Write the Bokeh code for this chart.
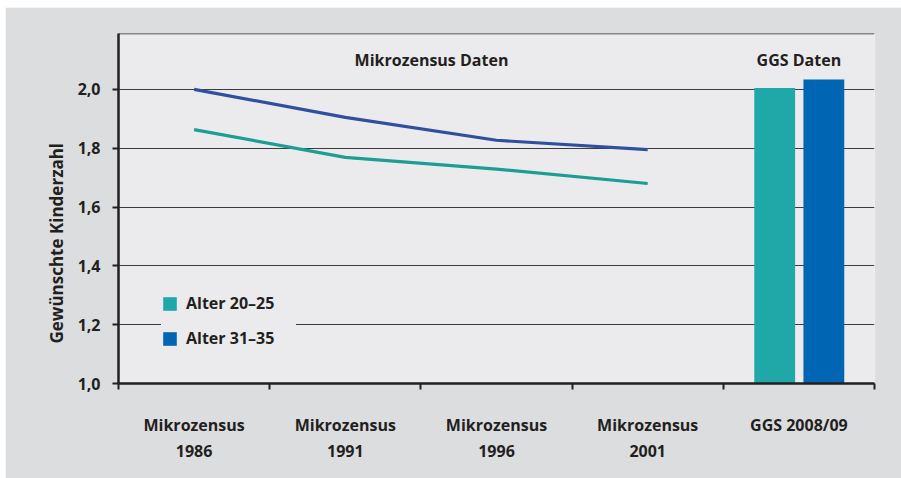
import math
from bokeh.plotting import figure
from bokeh.models import (FactorRange, Range1d, LinearAxis, CategoricalAxis, FixedTicker,
                          Span, Title, Legend, LegendItem, ColumnDataSource)
from bokeh.transform import dodge
from bokeh.core.properties import value
from bokeh.embed import file_html
from bokeh.resources import INLINE

# ---- data ----
categories = ["Mikrozensus\n1986", "Mikrozensus\n1991", "Mikrozensus\n1996",
              "Mikrozensus\n2001", "GGS 2008/09"]
mz_categories = categories[:4]
ggs_category = categories[4:]
alter_20_25_mz = [1.863, 1.769, 1.729, 1.680]
alter_31_35_mz = [2.000, 1.905, 1.827, 1.795]
alter_20_25_ggs = [2.005]
alter_31_35_ggs = [2.034]
series_names = ["Alter 20–25", "Alter 31–35"]
y_ticks = [1.0, 1.2, 1.4, 1.6, 1.8, 2.0]
y_tick_labels = ["1,0", "1,2", "1,4", "1,6", "1,8", "2,0"]
y_title = "Gewünschte Kinderzahl"
section_titles = ["Mikrozensus Daten", "GGS Daten"]

# ---- style ----
FONT = "Open Sans"
FS = "16px"
TXT = "#231f20"
TEAL_LINE = "#1c9d95"
BLUE_LINE = "#2f50a0"
TEAL_BAR = "#1fa8a7"
BLUE_BAR = "#0066b3"
Y_START, Y_END = 1.0, 2.19

p = figure(width=896, height=471, margin=(7, 0, 0, 5),
           x_range=FactorRange(*categories, range_padding=0),
           y_range=Range1d(Y_START, Y_END),
           output_backend="svg", toolbar_location=None,
           x_axis_location=None, y_axis_location="left",
           min_border_left=113, min_border_right=27, min_border_top=26, min_border_bottom=95,
           background_fill_color="#ebebed", border_fill_color="#dcdddf",
           outline_line_color=None)

# y axis
ya = p.yaxis[0]
ya.ticker = FixedTicker(ticks=y_ticks)
ya.major_label_overrides = dict(zip(y_ticks, y_tick_labels))
ya.axis_line_color = TXT
ya.axis_line_width = 2.5
ya.major_tick_line_color = TXT
ya.major_tick_line_width = 2
ya.major_tick_out = 6
ya.major_tick_in = 0
ya.minor_tick_line_color = None
ya.major_label_text_font = FONT
ya.major_label_text_font_style = "bold"
ya.major_label_text_font_size = FS
ya.major_label_text_color = TXT
ya.major_label_standoff = 12

p.ygrid.ticker = FixedTicker(ticks=y_ticks[1:])
p.ygrid.grid_line_color = "#3c3c3c"
p.ygrid.grid_line_width = 1
p.xgrid.grid_line_color = None

# y title (side title, starting a little above the frame bottom)
p.add_layout(Title(text=y_title, align="left", offset=40, standoff=14,
                   text_font=FONT, text_font_style="bold", text_font_size="17px",
                   text_color=TXT), "left")

# x axes: tick marks at category boundaries (synthetic coords 0..n), labels at centers
n_cat = len(categories)
tick_axis = LinearAxis(ticker=FixedTicker(ticks=list(range(n_cat + 1))),
                       major_label_overrides={i: "" for i in range(n_cat + 1)},
                       major_label_text_font_size="1px",
                       axis_line_color=TXT, axis_line_width=2.5,
                       major_tick_line_color=TXT, major_tick_line_width=2,
                       major_tick_out=6, major_tick_in=0,
                       minor_tick_line_color=None, major_label_standoff=0)
p.add_layout(tick_axis, "below")
cat_axis = CategoricalAxis(axis_line_color=None, major_tick_line_color=None,
                           major_label_text_font=FONT, major_label_text_font_style="bold",
                           major_label_text_font_size=FS, major_label_text_color=TXT,
                           major_label_standoff=18)
p.add_layout(cat_axis, "below")

# top border
p.add_layout(Span(location=Y_END, dimension="width", line_color=TXT, line_width=1.5))

# lines
p.line(mz_categories, alter_20_25_mz, line_color=TEAL_LINE, line_width=3.2)
p.line(mz_categories, alter_31_35_mz, line_color=BLUE_LINE, line_width=3.2)

# bars
src = ColumnDataSource(dict(x=ggs_category, a=alter_20_25_ggs, b=alter_31_35_ggs))
bar_a = p.vbar(x=dodge("x", -0.16, range=p.x_range), top="a", bottom=Y_START, width=0.27,
               source=src, fill_color=TEAL_BAR, line_color=None)
bar_b = p.vbar(x=dodge("x", 0.165, range=p.x_range), top="b", bottom=Y_START, width=0.27,
               source=src, fill_color=BLUE_BAR, line_color=None)

# legend
legend = Legend(items=[LegendItem(label=series_names[0], renderers=[bar_a]),
                       LegendItem(label=series_names[1], renderers=[bar_b])],
                location=(43, 34), background_fill_color="#ebebed", background_fill_alpha=1,
                border_line_color=None, glyph_width=17, glyph_height=17,
                label_text_font=FONT, label_text_font_style="bold",
                label_text_font_size=FS, label_text_color=TXT,
                padding=12, spacing=13, label_standoff=8, margin=0, label_height=17,
                label_width=110)
p.add_layout(legend)

# section titles
t1 = ColumnDataSource(dict(x=[categories[2]], y=[2.10], t=[section_titles[0]]))
p.text(x=dodge("x", -0.43, range=p.x_range), y="y", text="t", source=t1,
       text_font=value(FONT), text_font_style="bold", text_font_size=FS,
       text_color=TXT, text_align="center", text_baseline="middle")
t2 = ColumnDataSource(dict(x=[categories[4]], y=[2.10], t=[section_titles[1]]))
p.text(x="x", y="y", text="t", source=t2,
       text_font=value(FONT), text_font_style="bold", text_font_size=FS,
       text_color=TXT, text_align="center", text_baseline="middle")

open("out.html", "w").write(file_html(p, INLINE))
